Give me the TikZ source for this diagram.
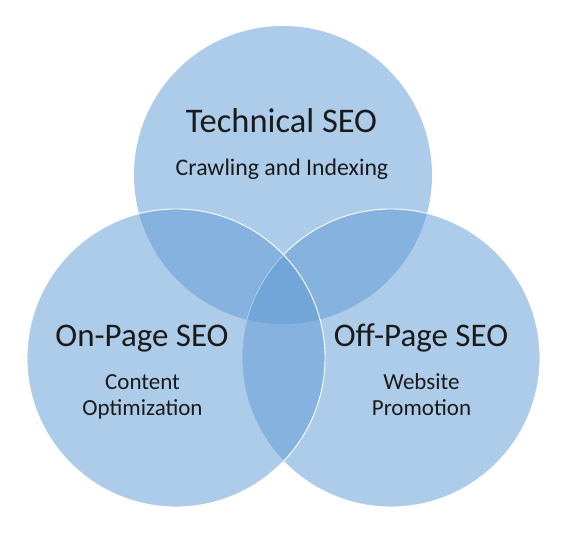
\documentclass[tikz,border=0pt]{standalone}
\usepackage{fontspec}
\setmainfont{Carlito}
\definecolor{seoblue}{RGB}{95,154,212}
\definecolor{seoink}{RGB}{26,26,26}

\begin{document}
\begin{tikzpicture}[x=1pt,y=-1pt,
    ring/.style={circle,minimum size=298pt,inner sep=0pt,fill=seoblue,fill opacity=.51},
    rim/.style={draw=white,line width=.9pt},
    title/.style={anchor=base,inner sep=0pt,text=seoink,font=\fontsize{33}{40}\selectfont},
    sub/.style={anchor=base,align=center,inner sep=0pt,text=seoink,font=\fontsize{23}{25.7}\selectfont}]
    \useasboundingbox (0,0) rectangle (563,534);
    %(1)
    \node[ring] (tech) at (283,175) {};
    %(2)
    \node[ring,rim] (offpage) at (391,358) {};
    %(3)
    \node[ring,rim] (onpage) at (176,358) {};
    %labels
    \node[title,font=\fontsize{34.5}{40}\selectfont] (techtitle) at (281.5,132.3) {Technical SEO};
    \node[sub,font=\fontsize{23.8}{26}\selectfont] (techsub) at (282,176) {Crawling and Indexing};
    \node[title] (ontitle) at (142,346.7) {On-Page SEO};
    \node[sub] (onsub) at (142.5,415.7) {Content\\Optimization};
    \node[title] (offtitle) at (421,346.7) {Off-Page SEO};
    \node[sub] (offsub) at (421.5,415.7) {Website\\Promotion};
\end{tikzpicture}
\end{document}
